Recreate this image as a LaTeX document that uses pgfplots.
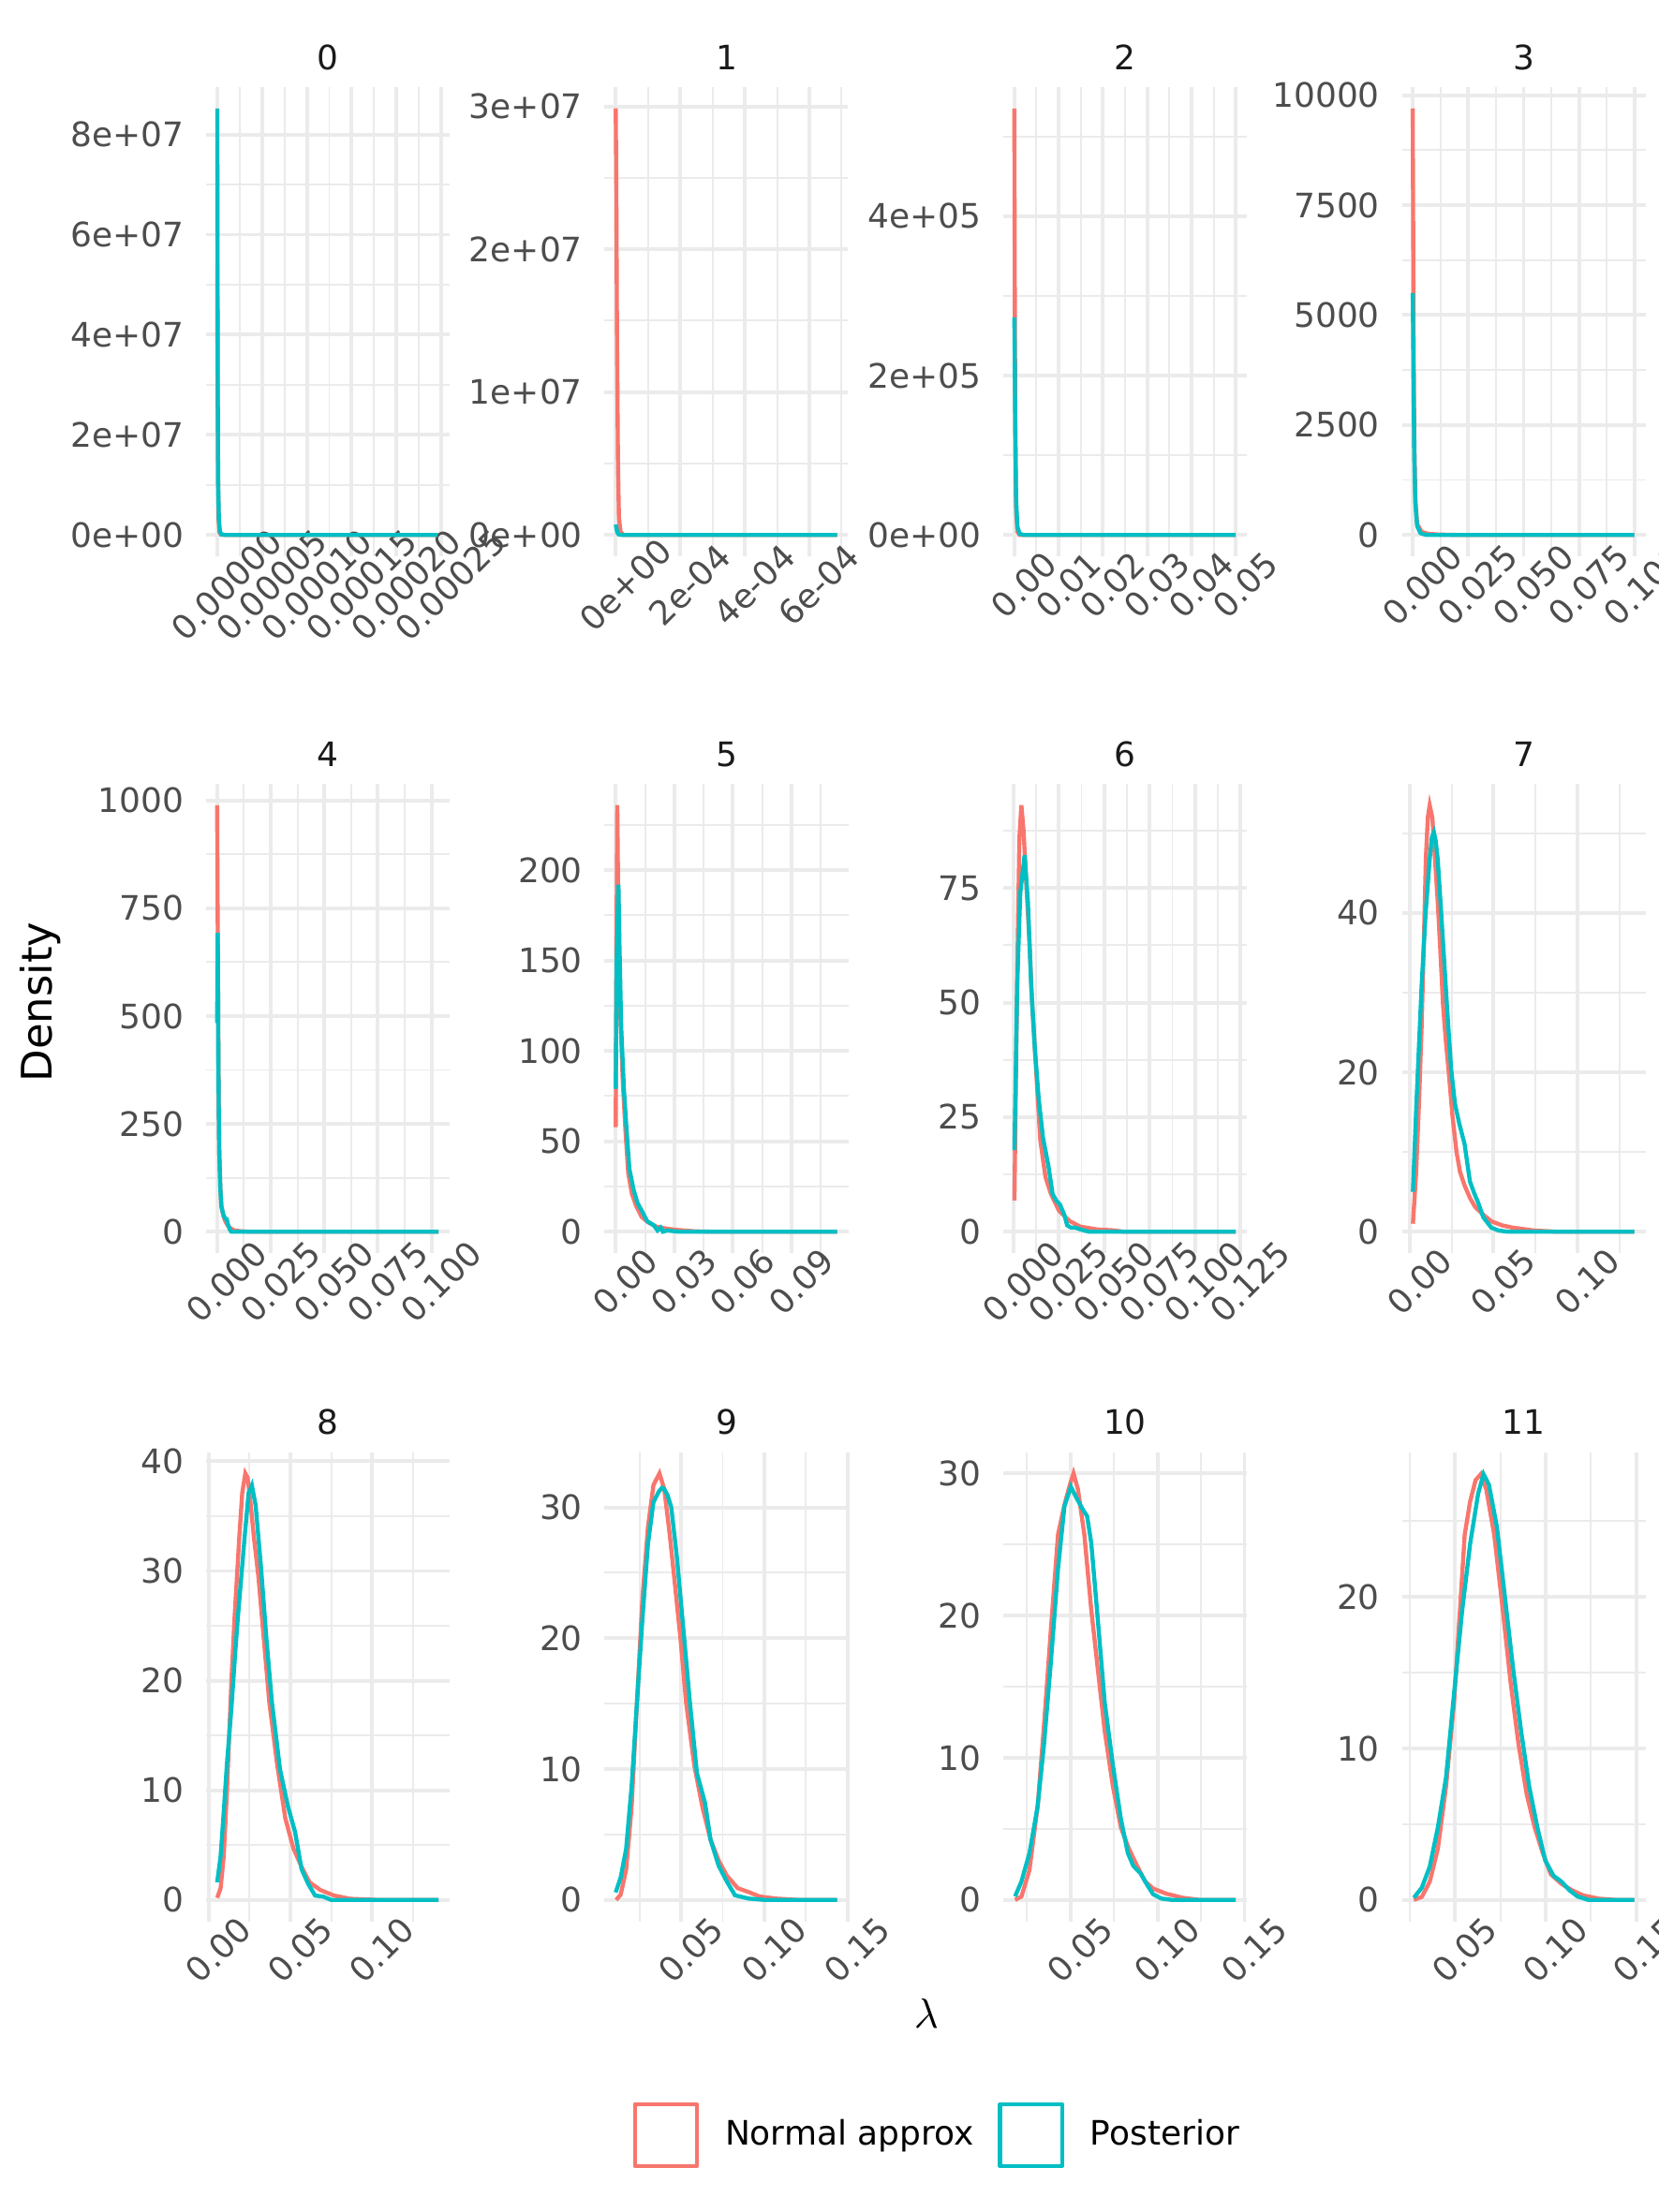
\documentclass[border=0pt]{standalone}
\usepackage{fontspec}
\setmainfont{DejaVu Sans}
\usepackage{pgfplots}
\pgfplotsset{compat=1.18}
\definecolor{nred}{HTML}{F8766D}
\definecolor{ncyan}{HTML}{00BFC4}
\definecolor{gridg}{HTML}{EBEBEB}
\definecolor{tickg}{HTML}{4D4D4D}
\definecolor{stripg}{HTML}{1A1A1A}
\pgfplotsset{
 facet/.style={
  scale only axis, width=63.66pt, height=122.66pt,
  anchor=south west,
  axis line style={draw=none},
  major tick length=0pt, minor tick length=0pt,
  grid=both,
  major grid style={draw=gridg, line width=0.95pt},
  minor grid style={draw=gridg, line width=0.48pt},
  tick label style={font=\fontsize{8.8}{10}\selectfont, text=tickg},
  xticklabel style={rotate=45, anchor=north, inner sep=0pt},
  yticklabel style={anchor=east, inner sep=0pt},
  xticklabel shift=5pt,
  yticklabel shift=5.6pt,
  scaled ticks=false,
  title style={font=\fontsize{8.8}{10}\selectfont, text=stripg, anchor=center, at={(0.5,1)}, yshift=1.75pt},
  every axis plot/.append style={line width=1.07pt, mark=none},
 }
}
\begin{document}
\begin{tikzpicture}
\useasboundingbox (0,0) rectangle (433.61pt,578.31pt);
% ---------------- Panel 0
\begin{axis}[facet, at={(53.86pt,432.88pt)}, title={0},
 xmin=-1.255e-5, xmax=2.594e-4, ymin=-4.26e6, ymax=8.946e7,
 xtick={0,5e-5,1e-4,1.5e-4,2e-4,2.5e-4}, xticklabels={0.00000,0.00005,0.00010,0.00015,0.00020,0.00025},
 minor xtick={2.5e-5,7.5e-5,1.25e-4,1.75e-4,2.25e-4},
 ytick={0,2e7,4e7,6e7,8e7}, yticklabels={0e+00,2e+07,4e+07,6e+07,8e+07},
 minor ytick={1e7,3e7,5e7,7e7}]
\addplot[nred] coordinates {(0,5.4e7) (3e-7,3.2e7) (8e-7,1.2e7) (1.5e-6,3e6) (2.5e-6,5e5) (4e-6,5e4) (8e-6,0) (2.46e-4,0)};
\addplot[ncyan] coordinates {(0,8.52e7) (2e-7,6e7) (5e-7,3e7) (1e-6,1e7) (1.8e-6,3e6) (3e-6,6e5) (5e-6,8e4) (9e-6,0) (2.46e-4,0)};
\end{axis}
% ---------------- Panel 1
\begin{axis}[facet, at={(158.04pt,432.88pt)}, title={1},
 xmin=-3.43e-5, xmax=7.205e-4, ymin=-1.493e6, ymax=3.1353e7,
 xtick={0,2e-4,4e-4,6e-4}, xticklabels={0e+00,2e-04,4e-04,6e-04},
 minor xtick={1e-4,3e-4,5e-4,7e-4},
 ytick={0,1e7,2e7,3e7}, yticklabels={0e+00,1e+07,2e+07,3e+07},
 minor ytick={0.5e7,1.5e7,2.5e7}]
\addplot[nred] coordinates {(0,2.986e7) (2e-6,2.4e7) (4e-6,1.4e7) (7e-6,5e6) (1e-5,1.2e6) (1.5e-5,2e5) (2.5e-5,0) (6.86e-4,0)};
\addplot[ncyan] coordinates {(0,7.3e5) (2e-6,5e5) (5e-6,1.5e5) (1e-5,2e4) (2e-5,0) (6.86e-4,0)};
\end{axis}
% ---------------- Panel 2
\begin{axis}[facet, at={(262.22pt,432.88pt)}, title={2},
 xmin=-0.0025, xmax=0.0525, ymin=-2.675e4, ymax=5.6175e5,
 xtick={0,0.01,0.02,0.03,0.04,0.05}, xticklabels={0.00,0.01,0.02,0.03,0.04,0.05},
 minor xtick={0.005,0.015,0.025,0.035,0.045},
 ytick={0,2e5,4e5}, yticklabels={0e+00,2e+05,4e+05},
 minor ytick={1e5,3e5,5e5}]
\addplot[nred] coordinates {(0,5.35e5) (0.0001,3.2e5) (0.0002,1.5e5) (0.0004,3e4) (0.0007,4e3) (0.0012,0) (0.05,0)};
\addplot[ncyan] coordinates {(0,2.73e5) (0.0001,2.2e5) (0.0002,1.4e5) (0.0004,4.5e4) (0.0007,1e4) (0.0012,1.5e3) (0.002,0) (0.05,0)};
\end{axis}
% ---------------- Panel 3
\begin{axis}[facet, at={(366.40pt,432.88pt)}, title={3},
 xmin=-0.0049, xmax=0.1049, ymin=-484.9, ymax=10182.9,
 xtick={0,0.025,0.05,0.075,0.1}, xticklabels={0.000,0.025,0.050,0.075,0.100},
 minor xtick={0.0125,0.0375,0.0625,0.0875},
 ytick={0,2500,5000,7500,10000}, yticklabels={0,2500,5000,7500,10000},
 minor ytick={1250,3750,6250,8750}]
\addplot[nred] coordinates {(0,9698) (0.0002,7000) (0.0004,4500) (0.0007,2200) (0.0012,800) (0.002,250) (0.004,70) (0.007,25) (0.012,8) (0.02,0) (0.0999,0)};
\addplot[ncyan] coordinates {(0,5500) (0.0002,4500) (0.0004,3200) (0.0007,1800) (0.0012,700) (0.002,200) (0.0035,40) (0.006,0) (0.0999,0)};
\end{axis}
% ---------------- Panel 4
\begin{axis}[facet, at={(53.86pt,250.72pt)}, title={4},
 xmin=-0.005165, xmax=0.108465, ymin=-49.45, ymax=1038.45,
 xtick={0,0.025,0.05,0.075,0.1}, xticklabels={0.000,0.025,0.050,0.075,0.100},
 minor xtick={0.0125,0.0375,0.0625,0.0875},
 ytick={0,250,500,750,1000}, yticklabels={0,250,500,750,1000},
 minor ytick={125,375,625,875}]
\addplot[nred] coordinates {(0,989) (0.0002,780) (0.0004,610) (0.0006,400) (0.0008,275) (0.001,185) (0.0015,100) (0.002,58) (0.003,35) (0.004,22) (0.005,14) (0.0065,7) (0.008,3) (0.011,1) (0.015,0) (0.1033,0)};
\addplot[ncyan] coordinates {(0,484) (0.00025,693) (0.0004,600) (0.0006,390) (0.0008,270) (0.001,184) (0.0015,100) (0.002,58) (0.003,38) (0.0038,30) (0.0045,29) (0.005,18) (0.0058,6) (0.0066,0) (0.1033,0)};
\end{axis}
% ---------------- Panel 5
\begin{axis}[facet, at={(158.04pt,250.72pt)}, title={5},
 xmin=-0.00567, xmax=0.11907, ymin=-11.8, ymax=247.8,
 xtick={0,0.03,0.06,0.09}, xticklabels={0.00,0.03,0.06,0.09},
 minor xtick={0.015,0.045,0.075,0.105},
 ytick={0,50,100,150,200}, yticklabels={0,50,100,150,200},
 minor ytick={25,75,125,175,225}]
\addplot[nred] coordinates {(0,57.8) (0.0003,140) (0.0008,236) (0.0014,168.8) (0.0022,124.9) (0.0036,83.2) (0.005,55.5) (0.0064,32.4) (0.0083,20.8) (0.0106,13.9) (0.0133,8.1) (0.0167,5.1) (0.0208,2.8) (0.0264,1.6) (0.032,0.9) (0.0403,0.2) (0.0487,0) (0.1134,0)};
\addplot[ncyan] coordinates {(0,79) (0.0005,150) (0.0014,192) (0.0019,159.5) (0.0028,113) (0.0042,78.6) (0.0056,55.5) (0.007,34.7) (0.0092,23) (0.0111,16) (0.0139,10.4) (0.0161,5.8) (0.0195,3.5) (0.0214,0.7) (0.023,2.3) (0.0242,0) (0.0264,0.7) (0.032,0) (0.1134,0)};
\end{axis}
% ---------------- Panel 6
\begin{axis}[facet, at={(262.22pt,250.72pt)}, title={6},
 xmin=-0.00556, xmax=0.1285, ymin=-4.655, ymax=97.755,
 xtick={0,0.025,0.05,0.075,0.1,0.125}, xticklabels={0.000,0.025,0.050,0.075,0.100,0.125},
 minor xtick={0.0125,0.0375,0.0625,0.0875,0.1125},
 ytick={0,25,50,75}, yticklabels={0,25,50,75},
 minor ytick={12.5,37.5,62.5,87.5}]
\addplot[nred] coordinates {(0.0006,6.8) (0.0015,35.6) (0.0024,63) (0.0033,85.8) (0.0044,93.1) (0.0056,87.6) (0.0074,73.9) (0.0089,63) (0.0103,50) (0.0118,40) (0.0148,20) (0.0177,11.9) (0.0207,8.2) (0.0251,4.6) (0.031,2.3) (0.0369,1.1) (0.0458,0.5) (0.0547,0.3) (0.0606,0) (0.1224,0)};
\addplot[ncyan] coordinates {(0.0006,17.8) (0.0021,53.8) (0.0038,73.9) (0.0062,82.2) (0.008,72.1) (0.0098,53.8) (0.0118,40.1) (0.0139,29.2) (0.0163,20.5) (0.0192,14.6) (0.0216,8.2) (0.0236,6.8) (0.0257,5.9) (0.0281,3.6) (0.0296,1.4) (0.0316,0.9) (0.034,0.9) (0.0369,0.5) (0.0414,0) (0.1224,0)};
\end{axis}
% ---------------- Panel 7
\begin{axis}[facet, at={(366.40pt,250.72pt)}, title={7},
 xmin=-0.0047, xmax=0.1406, ymin=-2.675, ymax=56.175,
 xtick={0,0.05,0.1}, xticklabels={0.00,0.05,0.10},
 minor xtick={0.025,0.075,0.125},
 ytick={0,20,40}, yticklabels={0,20,40},
 minor ytick={10,30,50}]
\addplot[nred] coordinates {(0.0019,1.0) (0.0038,7.3) (0.0055,16) (0.0071,25.7) (0.0085,37) (0.0096,46.7) (0.0108,52) (0.0119,53.5) (0.0135,51.9) (0.015,47) (0.0167,41.4) (0.0183,35) (0.0199,28.3) (0.0215,24) (0.0231,20.4) (0.0255,14.5) (0.0279,10) (0.03,7.5) (0.0327,5.8) (0.036,4.2) (0.039,3.1) (0.044,2.1) (0.0487,1.3) (0.055,0.8) (0.0615,0.5) (0.074,0.15) (0.087,0) (0.134,0)};
\addplot[ncyan] coordinates {(0.0019,5) (0.0038,15.2) (0.0071,30.9) (0.0095,40) (0.0119,46.7) (0.0132,49.5) (0.0144,50.1) (0.0155,49) (0.0167,46.7) (0.0183,41.5) (0.0199,36.2) (0.0223,28) (0.0247,20.4) (0.027,16) (0.0295,13.6) (0.0327,11) (0.0359,6.3) (0.0385,4.8) (0.0407,3.7) (0.0439,1.8) (0.0487,0.5) (0.053,0.15) (0.058,0) (0.134,0)};
\end{axis}
% ---------------- Panel 8
\begin{axis}[facet, at={(53.86pt,76.02pt)}, title={8},
 xmin=-0.0016, xmax=0.1473, ymin=-1.945, ymax=40.845,
 xtick={0,0.05,0.1}, xticklabels={0.00,0.05,0.10},
 minor xtick={0.025,0.075,0.125},
 ytick={0,10,20,30,40}, yticklabels={0,10,20,30,40},
 minor ytick={5,15,25,35},
 legend columns=2,
 legend image code/.code={\draw[line width=1.07pt, line join=round] (0pt,-8.1pt) rectangle (16.2pt,8.1pt);},
 legend style={at={(1.752,-0.456)}, anchor=west, draw=none, fill=none, inner sep=0pt, outer sep=0pt,
   font=\fontsize{8.8}{10}\selectfont, nodes={inner sep=0pt},
   /tikz/every odd column/.append style={column sep=6.86pt},
   /tikz/every even column/.append style={column sep=6.37pt}}]
\addplot[nred] coordinates {(0.0052,0.19) (0.0073,1.07) (0.0092,4) (0.0112,10) (0.0139,20) (0.0158,25.7) (0.0188,33.3) (0.0205,37.1) (0.0224,38.9) (0.0238,38.5) (0.0254,36.5) (0.0277,33) (0.0304,29.5) (0.0337,23.8) (0.037,18.1) (0.0419,12.3) (0.0469,7.4) (0.0518,4.7) (0.0568,3.0) (0.0617,1.6) (0.0683,0.9) (0.0766,0.4) (0.0865,0.1) (0.103,0) (0.1405,0)};
\addplot[ncyan] coordinates {(0.0052,1.6) (0.0073,4) (0.0092,8) (0.0112,12.5) (0.0139,17.5) (0.0162,22.5) (0.0178,25.7) (0.0221,33.3) (0.0244,37.1) (0.0264,37.8) (0.0287,36) (0.032,30.3) (0.0353,23.8) (0.0386,18.1) (0.0436,11.9) (0.0485,8.5) (0.0528,6.2) (0.0568,2.8) (0.0607,1.5) (0.065,0.4) (0.07,0.3) (0.0749,0) (0.1405,0)};
\legend{Normal approx,Posterior}
\end{axis}
% ---------------- Panel 9
\begin{axis}[facet, at={(158.04pt,76.02pt)}, title={9},
 xmin=0.0041, xmax=0.1504, ymin=-1.63, ymax=34.23,
 xtick={0.05,0.1,0.15}, xticklabels={0.05,0.10,0.15},
 minor xtick={0.025,0.075,0.125},
 ytick={0,10,20,30}, yticklabels={0,10,20,30},
 minor ytick={5,15,25}]
\addplot[nred] coordinates {(0.0110,0) (0.0137,0.4) (0.017,2.3) (0.0203,7.1) (0.0235,15.1) (0.0268,23.1) (0.0301,28.5) (0.0334,31.7) (0.037,32.6) (0.0399,31.4) (0.0432,27.9) (0.0464,24) (0.0497,19.9) (0.053,15.1) (0.0579,10.3) (0.0628,7.1) (0.0677,4.6) (0.0726,3.0) (0.0775,1.85) (0.084,0.9) (0.0906,0.6) (0.0971,0.26) (0.107,0.1) (0.12,0) (0.1437,0)};
\addplot[ncyan] coordinates {(0.0107,0.57) (0.0137,1.7) (0.017,3.9) (0.0203,8.7) (0.0235,15.1) (0.0268,21.5) (0.0301,27.2) (0.0334,30.4) (0.0366,31.2) (0.0385,31.5) (0.0399,31.4) (0.042,30.9) (0.0441,30.0) (0.0474,26.3) (0.0513,20.8) (0.0553,15.1) (0.0595,9.7) (0.0644,7.4) (0.0677,4.6) (0.0726,2.6) (0.0775,1.4) (0.0824,0.35) (0.0906,0.1) (0.1,0) (0.1437,0)};
\end{axis}
% ---------------- Panel 10
\begin{axis}[facet, at={(262.22pt,76.02pt)}, title={10},
 xmin=0.01144, xmax=0.15136, ymin=-1.5, ymax=31.5,
 xtick={0.05,0.1,0.15}, xticklabels={0.05,0.10,0.15},
 minor xtick={0.025,0.075,0.125},
 ytick={0,10,20,30}, yticklabels={0,10,20,30},
 minor ytick={5,15,25}]
\addplot[nred] coordinates {(0.0182,0) (0.0219,0.24) (0.0265,2.1) (0.0312,6.6) (0.0349,12.4) (0.0389,19.2) (0.0429,25.7) (0.0466,27.8) (0.0497,29.2) (0.0518,30.0) (0.0543,28.9) (0.058,25.7) (0.062,20.4) (0.0657,16.3) (0.0697,11.9) (0.0744,8.0) (0.079,5.1) (0.0836,3.6) (0.0883,2.4) (0.0929,1.3) (0.0975,0.8) (0.105,0.44) (0.1145,0.15) (0.124,0) (0.145,0)};
\addplot[ncyan] coordinates {(0.0182,0.24) (0.0219,1.3) (0.0265,3.3) (0.0312,6.6) (0.0349,11) (0.0389,16.9) (0.0429,23.3) (0.0466,27.7) (0.0503,29.06) (0.0534,28.3) (0.0574,27.4) (0.0596,27) (0.062,25.1) (0.0657,19.8) (0.0697,13.9) (0.0744,9.5) (0.079,5.7) (0.083,3.3) (0.0861,2.4) (0.0904,1.85) (0.0944,1.0) (0.0975,0.4) (0.1021,0.1) (0.1083,0) (0.145,0)};
\end{axis}
% ---------------- Panel 11
\begin{axis}[facet, at={(366.40pt,76.02pt)}, title={11},
 xmin=0.02059, xmax=0.15512, ymin=-1.4075, ymax=29.5575,
 xtick={0.05,0.1,0.15}, xticklabels={0.05,0.10,0.15},
 minor xtick={0.025,0.075,0.125},
 ytick={0,10,20}, yticklabels={0,10,20},
 minor ytick={5,15,25}]
\addplot[nred] coordinates {(0.0272,0) (0.0316,0.2) (0.036,1.2) (0.0405,3.4) (0.045,7.5) (0.0494,13) (0.0524,18.6) (0.0553,24.1) (0.0583,26.3) (0.0613,27.7) (0.0642,28.1) (0.0672,27.1) (0.0716,24.1) (0.0761,19.4) (0.0806,14.4) (0.085,10.3) (0.0895,7.0) (0.0939,4.8) (0.0984,3.1) (0.1028,1.7) (0.1088,1.05) (0.1147,0.63) (0.1206,0.3) (0.1295,0.08) (0.1384,0) (0.149,0)};
\addplot[ncyan] coordinates {(0.0272,0.14) (0.0316,0.8) (0.036,2.2) (0.0405,4.8) (0.045,8.1) (0.0494,13.6) (0.0539,19.1) (0.0583,23.5) (0.0627,26.8) (0.0657,28.1) (0.0687,27.4) (0.0731,24.6) (0.0776,19.9) (0.082,15.3) (0.0865,11.1) (0.0909,7.5) (0.0954,4.8) (0.0998,2.6) (0.1043,1.6) (0.1088,1.2) (0.1132,0.63) (0.1177,0.22) (0.1236,0) (0.149,0)};
\end{axis}
% axis titles
\node[rotate=90, font=\fontsize{11}{13}\selectfont] at (10.53pt,316.3pt) {Density};
\node[font=\fontsize{11}{13}\selectfont] at (242.1pt,51.9pt) {$\lambda$};
\end{tikzpicture}
\end{document}
